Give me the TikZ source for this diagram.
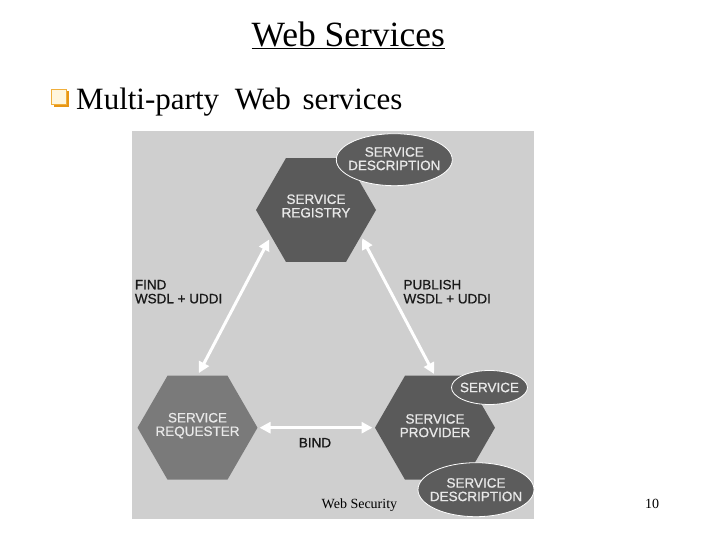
\documentclass[tikz,border=0pt]{standalone}
\usepackage{fontspec}
\setmainfont{Liberation Serif}
\newfontfamily\diagfont[FakeBold=0.9]{Liberation Sans}
\usetikzlibrary{shapes.geometric,arrows.meta}
\definecolor{panelgray}{RGB}{207,207,207}
\definecolor{hexdark}{RGB}{90,90,90}
\definecolor{hexmid}{RGB}{122,122,122}
\definecolor{ellgray}{RGB}{92,92,92}
\definecolor{shapetext}{RGB}{232,232,232}
\definecolor{lblcol}{RGB}{25,25,25}
\definecolor{bulshadow}{RGB}{232,150,20}
\definecolor{bulborder}{RGB}{240,175,60}
\definecolor{bulfill}{RGB}{255,246,222}
\begin{document}
\begin{tikzpicture}[x=1pt,y=1pt,
  hexa/.style={regular polygon, regular polygon sides=6, minimum size=120pt,
               inner sep=0pt, outer sep=0pt, draw=none},
  stext/.style={font=\diagfont\fontsize{13.5}{13.5}\selectfont, text=shapetext,
                align=center, inner sep=0pt},
  ell/.style={ellipse, fill=ellgray, draw=white, line width=0.8pt, inner sep=0pt},
  lbl/.style={font=\diagfont\fontsize{13.5}{14}\selectfont, text=lblcol,
              align=left, inner sep=0pt},
  arr/.style={draw=white, line width=3pt,
              {Triangle[length=11pt,width=11pt]}-{Triangle[length=11pt,width=11pt]}},
  serif/.style={inner sep=0pt, text=black}
]
\useasboundingbox (0,0) rectangle (720,540);
\fill[white] (0,0) rectangle (720,540);

% title
\node[serif, font=\fontsize{35.5}{40}\selectfont, anchor=base] (title) at (348.3,493.3) {\underline{Web Services}};

% bullet
\fill[bulshadow] (53.5,433) rectangle (69,448.5);
\filldraw[fill=bulfill, draw=bulborder, line width=0.8pt] (51.5,436) rectangle (66,450.8);
\node[serif, font=\fontsize{31}{36}\selectfont, anchor=base west] (bullet) at (76,430.7)
  {Multi-party\hspace{8pt} Web\hspace{4pt} services};

% panel
\fill[panelgray] (132,21) rectangle (534,409);

% hexagons
\node[hexa, fill=hexdark, label={[stext, yshift=4pt]center:SERVICE\\REGISTRY}] (reg) at (316,330) {};
\node[hexa, fill=hexmid, label={[stext, yshift=2pt]center:SERVICE\\REQUESTER}] (req) at (197.5,112.3) {};
\node[hexa, fill=hexdark, label={[stext, yshift=2pt]center:SERVICE\\PROVIDER}] (prov) at (435,112.3) {};

% ellipses
\node[ell, minimum width=116pt, minimum height=52pt, label={[stext, yshift=1pt]center:SERVICE\\DESCRIPTION}] (regdesc) at (394.3,380.3) {};
\node[ell, minimum width=76pt, minimum height=34pt, label={[stext]center:SERVICE}] (service) at (489.5,152.5) {};
\node[ell, minimum width=116pt, minimum height=54pt, label={[stext]center:SERVICE\\DESCRIPTION}] (provdesc) at (476,50.3) {};

% arrows
\draw[arr, shorten <=3pt, shorten >=4pt] (req.north) -- (reg.210);
\draw[arr, shorten <=2.5pt, shorten >=2pt] (reg.330) -- (prov.north);
\draw[arr, shorten <=2pt, shorten >=2.5pt] (req.east) -- (prov.west);

% labels
\node[lbl, anchor=west] (find) at (134.7,248.3) {FIND\\WSDL + UDDI};
\node[lbl, anchor=west] (publish) at (403.3,248.3) {PUBLISH\\WSDL + UDDI};
\node[lbl] (bind) at (315,97.3) {BIND};

% footer
\node[serif, font=\fontsize{14}{16}\selectfont, anchor=base west] (foot) at (321.5,31.7) {Web Security};
\node[serif, font=\fontsize{14}{16}\selectfont, anchor=base west] (page) at (645,31.7) {10};
\end{tikzpicture}
\end{document}
